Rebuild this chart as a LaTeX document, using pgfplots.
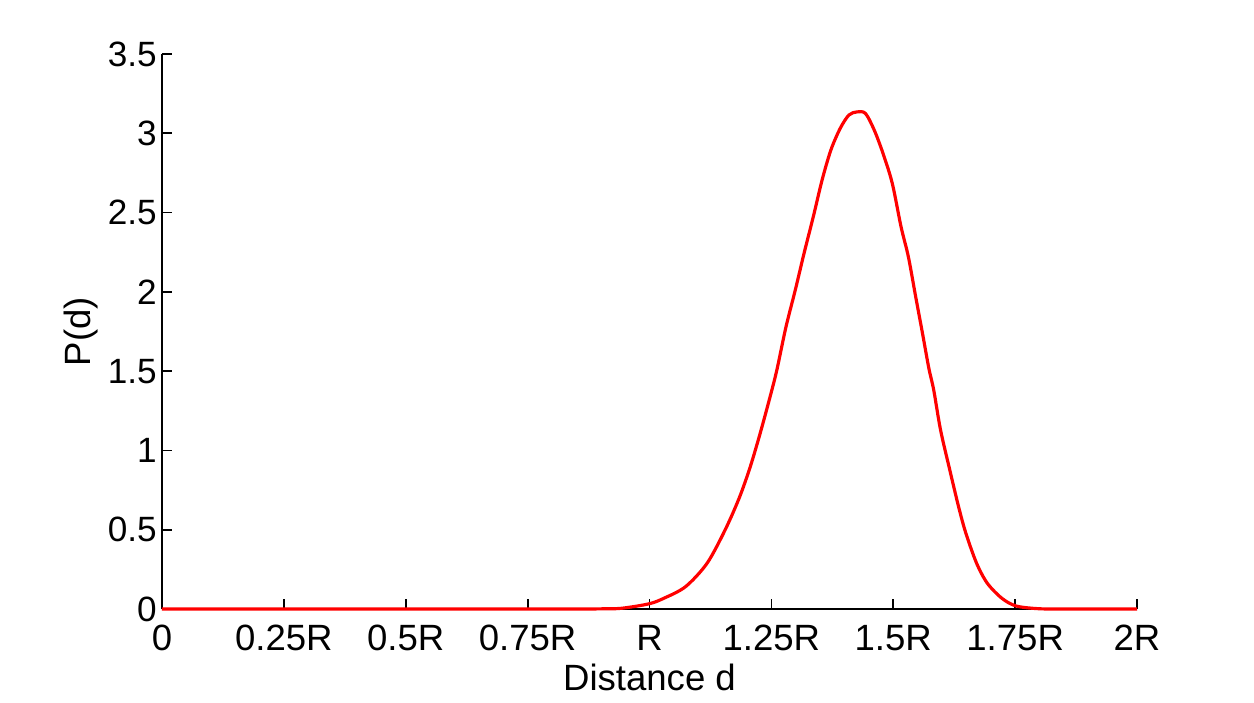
\documentclass[border=0pt]{standalone}
\usepackage{pgfplots}
\pgfplotsset{compat=1.18}
\usepackage{fontspec}
\setmainfont{Liberation Sans}
\begin{document}
\begin{tikzpicture}
\begin{axis}[
  scale only axis,
  width=9.75cm, height=5.55cm,
  xmin=0, xmax=2, ymin=0, ymax=3.5,
  axis x line=bottom, axis y line=left,
  axis line style={-, black, line width=0.5pt},
  tick align=inside,
  major tick length=0.1cm,
  tick style={black, line width=0.5pt},
  xtick={0,0.25,0.5,0.75,1,1.25,1.5,1.75,2},
  xticklabels={0,0.25R,0.5R,0.75R,R,1.25R,1.5R,1.75R,2R},
  ytick={0,0.5,1,1.5,2,2.5,3,3.5},
  /pgf/number format/assume math mode=true,
  ticklabel style={font=\fontsize{10.4}{12}\selectfont},
  xticklabel style={yshift=-1pt},
  yticklabel style={xshift=2pt, font=\fontsize{10}{12}\selectfont},
  label style={font=\fontsize{10.4}{12}\selectfont},
  xlabel={Distance d},
  ylabel={P(d)},
  xlabel style={yshift=3pt},
  ylabel style={yshift=-4pt},
  clip=false,
]
\addplot[red, line width=0.9pt, smooth, tension=0.5] coordinates {
(0,0) (0.5,0) (0.85,0) (0.897,0.001) (0.941,0.004) (0.998,0.032) (1.029,0.067) (1.074,0.141)
(1.118,0.288) (1.155,0.498) (1.184,0.70) (1.207,0.90) (1.229,1.13) (1.251,1.381)
(1.262,1.518) (1.280,1.78) (1.299,2.011) (1.317,2.243) (1.336,2.474) (1.354,2.705)
(1.372,2.894) (1.391,3.03) (1.409,3.115) (1.426,3.135) (1.443,3.125) (1.461,3.02)
(1.479,2.873) (1.498,2.684) (1.516,2.41) (1.531,2.221) (1.546,1.969) (1.560,1.738)
(1.573,1.518) (1.583,1.381) (1.597,1.129) (1.616,0.876) (1.634,0.645) (1.649,0.477)
(1.671,0.288) (1.693,0.162) (1.723,0.067) (1.752,0.019) (1.797,0.002) (1.85,0) (2,0)
};
\end{axis}
\path (-1.62,-0.91) rectangle (10.92,6.09);
\end{tikzpicture}
\end{document}
